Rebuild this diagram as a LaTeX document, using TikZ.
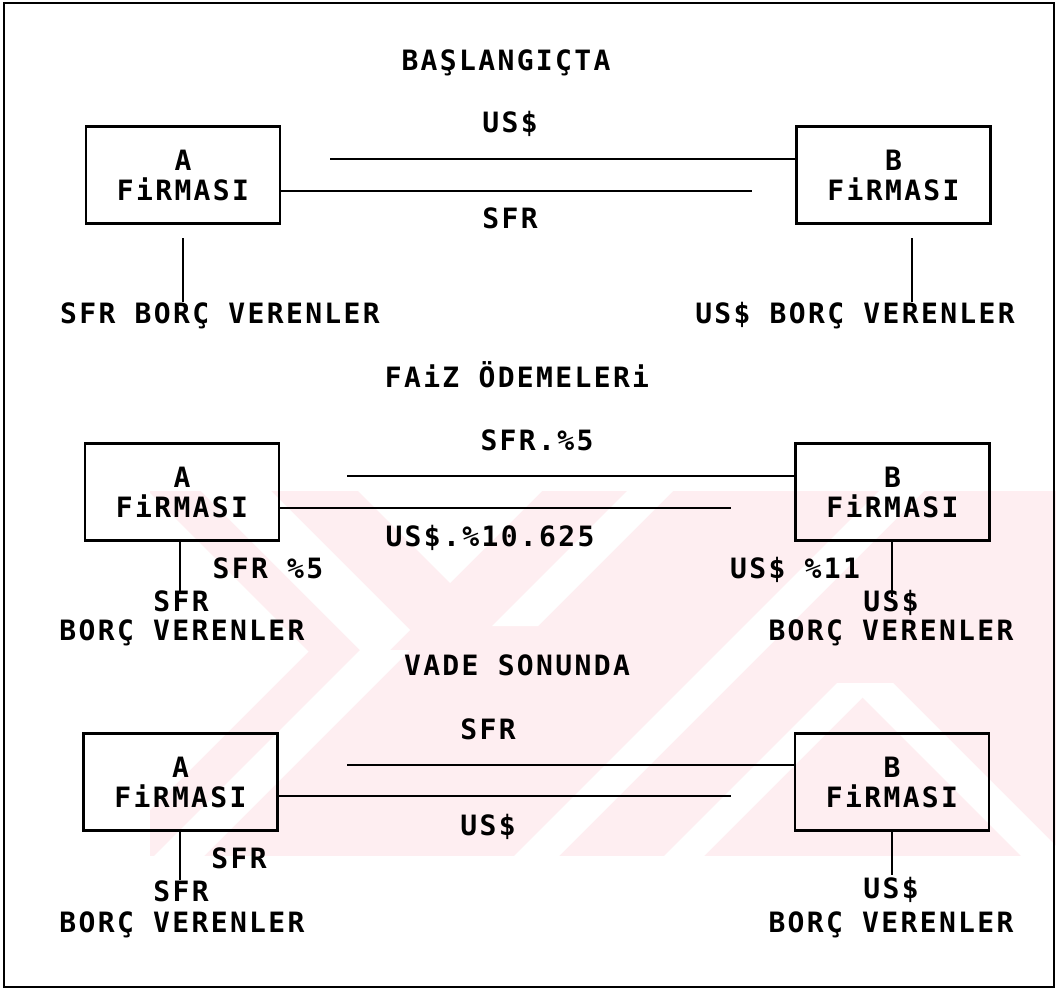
\documentclass[tikz,border=0pt]{standalone}
\usepackage{fontspec}
\newfontfamily\plotfont[LetterSpace=8.4]{DejaVu Sans Mono}
\definecolor{wmpink}{RGB}{254,238,241}
\tikzset{
  txt/.style={font=\plotfont\bfseries\fontsize{28}{30}\selectfont, inner sep=0pt, anchor=base},
  firm/.style={draw, line width=2.6pt, minimum width=194pt, minimum height=97pt, inner sep=0pt,
    align=center, font=\plotfont\bfseries\fontsize{28}{30}\selectfont},
  flow/.style={line width=2.6pt},
  leg/.style={line width=2.4pt},
}
\begin{document}
\begin{tikzpicture}[x=1pt,y=-1pt]
\useasboundingbox (0,0) rectangle (1056,992);
% watermark
\begin{scope}
\clip (150,491) rectangle (1056,856);
\fill[wmpink] (150,491) rectangle (1056,856);
\fill[white] (0,491) -- (148,491) -- (308.5,651.5) -- (104,856) -- (0,856) -- cycle;
\fill[white] (358,491) -- (450,583) -- (542,491) -- cycle;
\fill[white] (271,491) -- (410,630) -- (375,665) -- (201,491) -- cycle;
\fill[white] (154,856) -- (204,856) -- (410,650) -- (360,650) -- cycle;
\fill[white] (627,491) -- (673,491) -- (538,626) -- (492,626) -- cycle;
\fill[white] (879,491) -- (924,491) -- (559,856) -- (514,856) -- cycle;
\fill[white] (848,683) -- (893,683) -- (1066,856) -- (1021,856) -- cycle;
\fill[white] (837,683) -- (877,683) -- (704,856) -- (664,856) -- cycle;
\end{scope}
% frame
\draw[line width=2.2pt] (4,3) rectangle (1054,987);

% ---------- section 1
\node[txt] (title1) at (506,70.5) {BAŞLANGIÇTA};
\node[firm] (A1) at (183,175) {A\\FiRMASI};
\node[firm] (B1) at (893.5,175) {B\\FiRMASI};
\node[txt] (us1) at (510,132.5) {US\$};
\node[txt] (sfr1) at (510,228.5) {SFR};
\coordinate (u1) at (330,159);
\coordinate (l1) at (752,191);
\draw[flow] (u1) -- (B1.west |- u1);
\draw[flow] (A1.east |- l1) -- (l1);
\node[txt] (la1) at (220,323.5) {SFR BORÇ VERENLER};
\node[txt] (lb1) at (855,323.5) {US\$ BORÇ VERENLER};
\coordinate (a1t) at (183,238);
\coordinate (a1b) at (183,302);
\coordinate (b1t) at (912,238);
\coordinate (b1b) at (912,302);
\draw[leg] (a1t) -- (a1b);
\draw[leg] (b1t) -- (b1b);

% ---------- section 2
\node[txt] (title2) at (517,387.5) {FAiZ ÖDEMELERi};
\node[firm] (A2) at (182,492) {A\\FiRMASI};
\node[firm] (B2) at (892.5,492) {B\\FiRMASI};
\node[txt] (t2u) at (537,450.5) {SFR.\%5};
\node[txt] (t2l) at (490,546.5) {US\$.\%10.625};
\coordinate (u2) at (347,476);
\coordinate (l2) at (731,508);
\draw[flow] (u2) -- (B2.west |- u2);
\draw[flow] (A2.east |- l2) -- (l2);
\node[txt] (sa2) at (268,578.5) {SFR \%5};
\node[txt] (sb2) at (795,578.5) {US\$ \%11};
\node[txt] (la2a) at (181,611.5) {SFR};
\node[txt] (la2b) at (182,640.5) {BORÇ VERENLER};
\node[txt] (lb2a) at (891,611.5) {US\$};
\node[txt] (lb2b) at (891,640.5) {BORÇ VERENLER};
\coordinate (a2b) at (180,593);
\coordinate (b2b) at (892,597);
\draw[leg] (a2b |- A2.south) -- (a2b);
\draw[leg] (b2b |- B2.south) -- (b2b);

% ---------- section 3
\node[txt] (title3) at (517,675.5) {VADE SONUNDA};
\node[firm] (A3) at (180.5,782) {A\\FiRMASI};
\node[firm] (B3) at (892,782) {B\\FiRMASI};
\node[txt] (t3u) at (488,739.5) {SFR};
\node[txt] (t3l) at (488,835.5) {US\$};
\coordinate (u3) at (347,765);
\coordinate (l3) at (731,796);
\draw[flow] (u3) -- (B3.west |- u3);
\draw[flow] (A3.east |- l3) -- (l3);
\node[txt] (sa3) at (239,868.5) {SFR};
\node[txt] (la3a) at (181,901.5) {SFR};
\node[txt] (la3b) at (182,932.5) {BORÇ VERENLER};
\node[txt] (lb3a) at (891,898.5) {US\$};
\node[txt] (lb3b) at (891,932.5) {BORÇ VERENLER};
\coordinate (a3b) at (180,880);
\coordinate (b3b) at (892,875);
\draw[leg] (a3b |- A3.south) -- (a3b);
\draw[leg] (b3b |- B3.south) -- (b3b);
\end{tikzpicture}
\end{document}
